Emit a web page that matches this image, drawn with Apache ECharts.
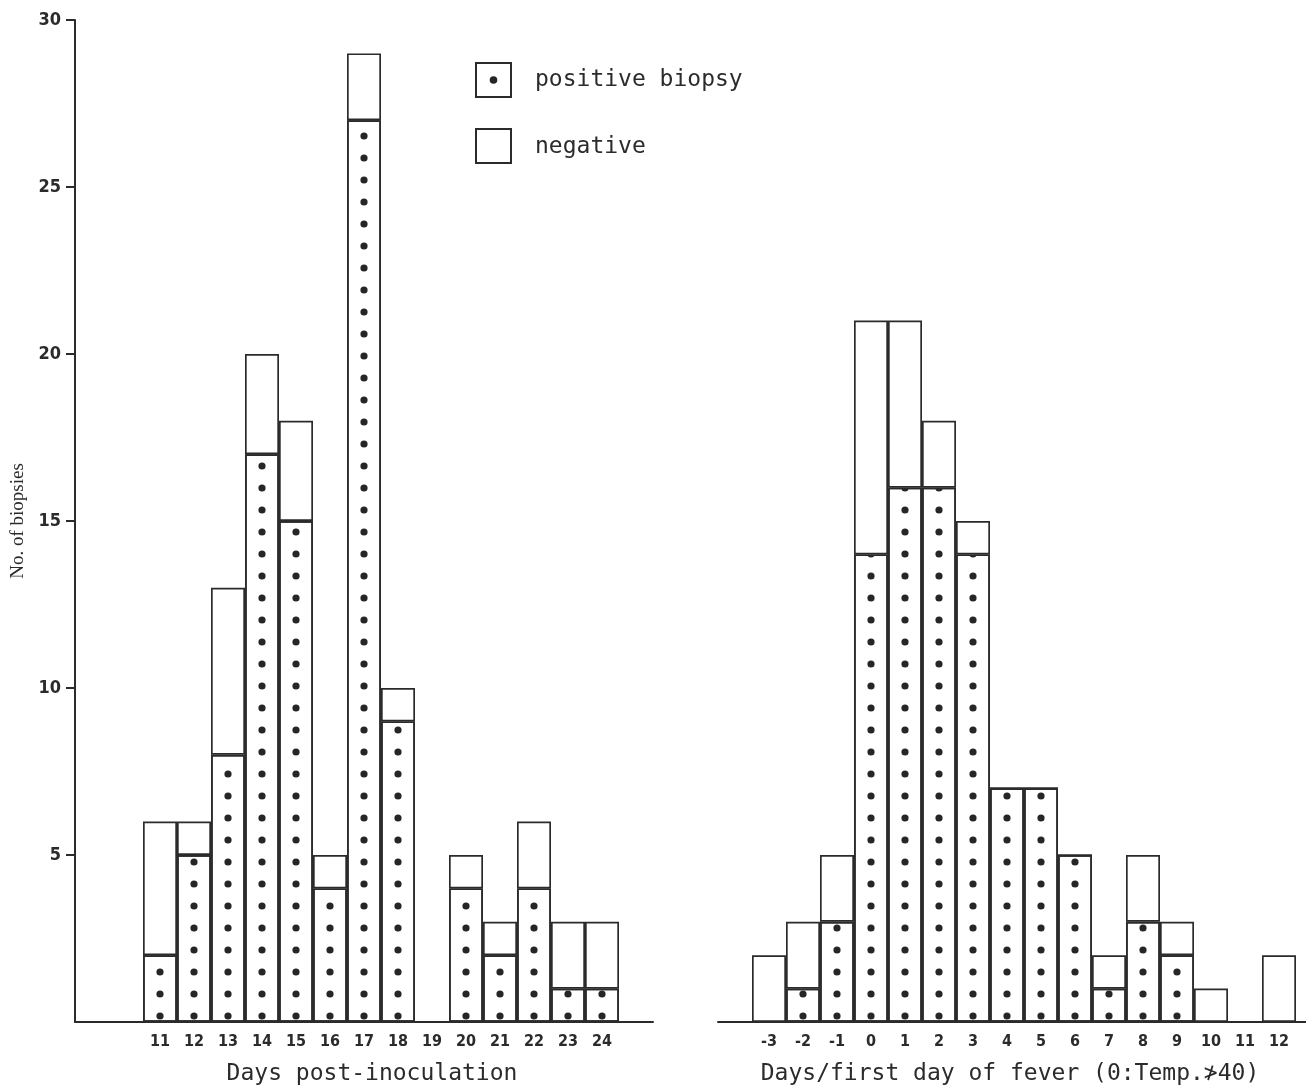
<!DOCTYPE html>
<html>
<head>
<meta charset="utf-8">
<title>No. of biopsies</title>
<script src="https://cdn.jsdelivr.net/npm/echarts@6/dist/echarts.min.js"></script>
<style>
  html, body { margin: 0; padding: 0; background: #fff; }
  #chart { width: 1306px; height: 1089px; }
</style>
</head>
<body>
<div id="chart"></div>
<script>
// left panel: days post-inoculation (9, 10 and 25 are empty slots)
var leftDays     = ['9', '10', '11', '12', '13', '14', '15', '16', '17', '18', '19', '20', '21', '22', '23', '24', '25'];
var leftPositive = [0, 0, 2, 5, 8, 17, 15, 4, 27, 9, 0, 4, 2, 4, 1, 1, 0];
var leftNegative = [0, 0, 4, 1, 5, 3, 3, 1, 2, 1, 0, 1, 1, 2, 2, 2, 0];
var leftHidden   = ['9', '10', '25'];

// right panel: days / first day of fever (-4 and 13 are empty slots)
var rightDays     = ['-4', '-3', '-2', '-1', '0', '1', '2', '3', '4', '5', '6', '7', '8', '9', '10', '11', '12', '13'];
var rightPositive = [0, 0, 1, 3, 14, 16, 16, 14, 7, 7, 5, 1, 3, 2, 0, 0, 0, 0];
var rightNegative = [0, 2, 2, 2, 7, 5, 2, 1, 0, 0, 0, 1, 2, 1, 1, 0, 2, 0];
var rightHidden   = ['-4', '13'];

var yTicks = [5, 10, 15, 20, 25, 30];

var INK = '#2b2b2b';
var NARROW = '"Liberation Sans Narrow", "DejaVu Sans Condensed", "Arial Narrow", sans-serif';
var MONO = '"DejaVu Sans Mono", "Liberation Mono", monospace';

var chart = echarts.init(document.getElementById('chart'));

// dotted fill: one column of dots per bar (bars are 34px wide), 22px apart
function dots(centre) {
    return {
        symbol: 'circle',
        symbolSize: 0.9,
        color: '#262626',
        dashArrayX: [0, centre - 4, 8, 30 - centre],
        dashArrayY: [8, 14]
    };
}

function bars(name, idx, data, decal) {
    var style = { color: '#fff', borderColor: INK, borderWidth: 1.7 };
    if (decal) style.decal = decal;
    return {
        name: name,
        type: 'bar',
        xAxisIndex: idx,
        yAxisIndex: idx,
        stack: 'p' + idx,
        barCategoryGap: '0%',
        silent: true,
        itemStyle: style,
        data: data
    };
}

function dayAxis(idx, days, hidden, name, pad) {
    return {
        type: 'category',
        gridIndex: idx,
        data: days,
        axisLine: { lineStyle: { color: INK, width: 2 } },
        axisTick: { show: false },
        axisLabel: {
            interval: 0,
            margin: 12,
            color: INK,
            fontFamily: NARROW,
            fontWeight: 'bold',
            fontSize: 16,
            formatter: function (v) { return hidden.indexOf(v) >= 0 ? '' : v; }
        },
        name: name,
        nameLocation: 'middle',
        nameGap: 41,
        nameTextStyle: { color: INK, fontFamily: MONO, fontSize: 23, padding: pad }
    };
}

var option = {
    backgroundColor: '#fff',
    animation: false,
    grid: [
        { left: 75, top: 20, width: 578, height: 1002, outerBoundsMode: 'none' },
        { left: 718, top: 20, width: 612, height: 1002, outerBoundsMode: 'none' }
    ],
    xAxis: [
        dayAxis(0, leftDays, leftHidden, 'Days post-inoculation', [0, 0, 0, 16]),
        dayAxis(1, rightDays, rightHidden, 'Days/first day of fever (0:Temp.\u226F40)', [0, 28, 0, 0])
    ],
    yAxis: [{
        type: 'value',
        gridIndex: 0,
        min: 0,
        max: 30,
        interval: 5,
        splitLine: { show: false },
        axisLine: { show: true, lineStyle: { color: INK, width: 2 } },
        axisTick: { show: true, length: 9, lineStyle: { color: INK, width: 2 }, customValues: yTicks },
        axisLabel: {
            margin: 14,
            color: INK,
            fontFamily: NARROW,
            fontWeight: 'bold',
            fontSize: 18,
            customValues: yTicks,
            formatter: function (v) { return v === 0 ? '' : v; }
        },
        name: 'No. of biopsies',
        nameLocation: 'middle',
        nameRotate: 90,
        nameGap: 47,
        nameTextStyle: { color: INK, fontFamily: '"Liberation Serif", "DejaVu Serif", serif', fontSize: 19 }
    }, {
        type: 'value',
        gridIndex: 1,
        min: 0,
        max: 30,
        show: false
    }],
    series: [
        bars('positive biopsy', 0, leftPositive, dots(24)),
        bars('negative', 0, leftNegative),
        bars('positive biopsy', 1, rightPositive, dots(21)),
        bars('negative', 1, rightNegative)
    ],
    graphic: [
        { type: 'rect', shape: { x: 476, y: 63, width: 35, height: 34 }, style: { fill: '#fff', stroke: INK, lineWidth: 2 } },
        { type: 'circle', shape: { cx: 493.5, cy: 80, r: 3.8 }, style: { fill: '#262626' } },
        { type: 'text', x: 535, y: 80, style: { text: 'positive biopsy', font: '23px ' + MONO, fill: INK, verticalAlign: 'middle' } },
        { type: 'rect', shape: { x: 476, y: 129, width: 35, height: 34 }, style: { fill: '#fff', stroke: INK, lineWidth: 2 } },
        { type: 'text', x: 535, y: 147, style: { text: 'negative', font: '23px ' + MONO, fill: INK, verticalAlign: 'middle' } }
    ]
};

chart.setOption(option);
</script>
</body>
</html>
